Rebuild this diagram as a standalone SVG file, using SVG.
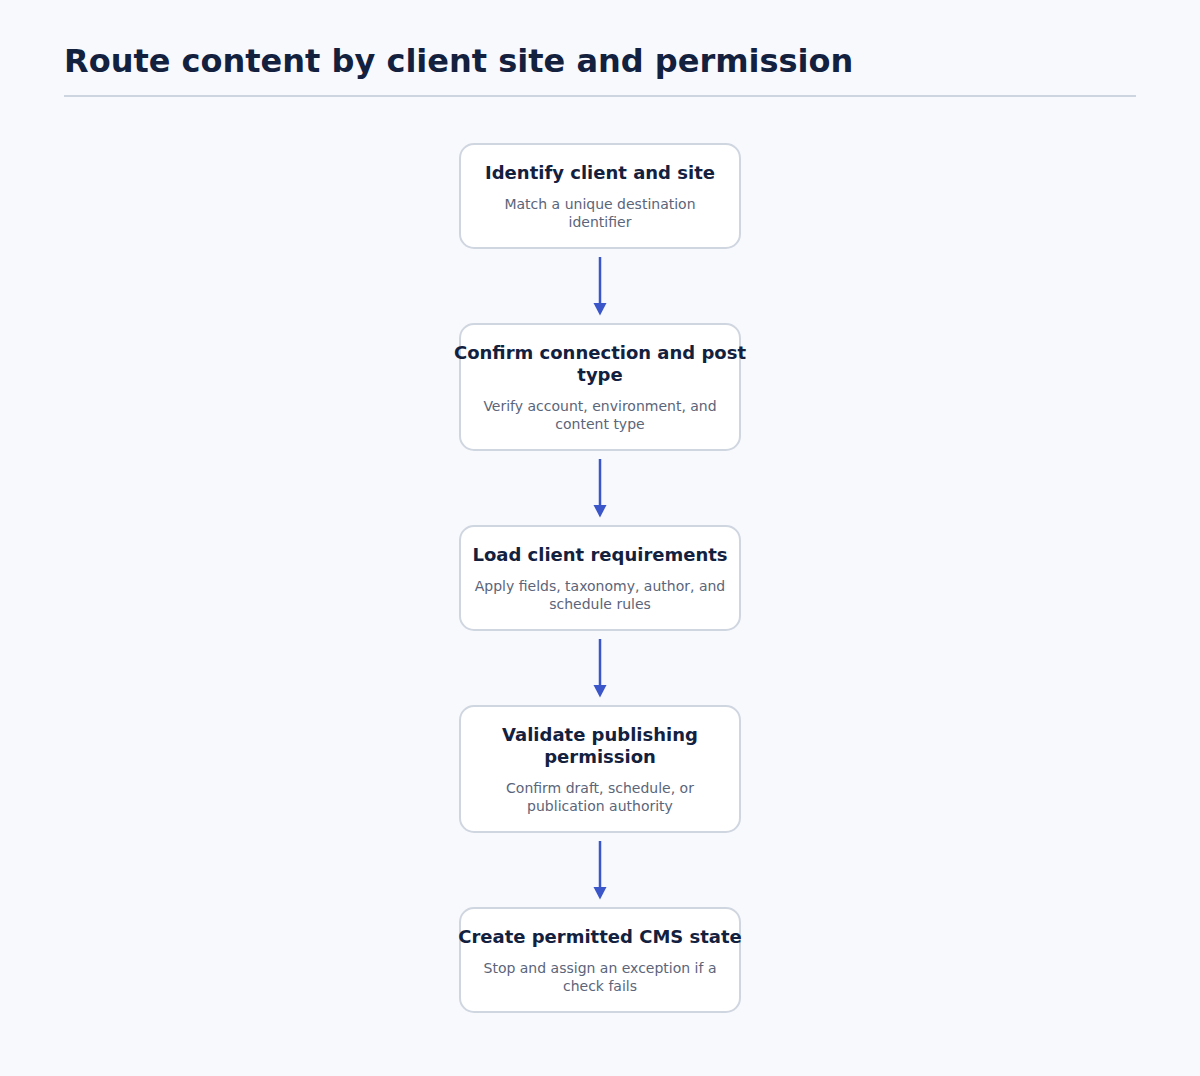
<svg xmlns="http://www.w3.org/2000/svg" width="1200" height="1076" viewBox="0 0 1200 1076">
<defs>
<style>
.bg{fill:#f7f9fd}
.box{fill:#ffffff;stroke:#d0d6e0;stroke-width:2}
.t{font-family:"DejaVu Sans",sans-serif;font-weight:bold;font-size:18px;fill:#13213f;text-anchor:middle}
.s{font-family:"DejaVu Sans",sans-serif;font-size:14px;fill:#5b6579;text-anchor:middle}
.h{font-family:"DejaVu Sans",sans-serif;font-weight:bold;font-size:32px;fill:#13213f}
.c{stroke:#3a56c8;stroke-width:2.5;fill:none}
.a{fill:#3a56c8}
</style>
</defs>
<rect class="bg" x="0" y="0" width="1200" height="1076"/>
<g id="title">
<text class="h" x="64" y="72">Route content by client site and permission</text>
<line x1="64" y1="96" x2="1136" y2="96" stroke="#cdd5e0" stroke-width="2"/>
</g>
<g id="connectors">
<line class="c" x1="600" y1="257" x2="600" y2="305"/>
<path class="a" d="M593.5,303 L606.5,303 L600,315.5 Z"/>
<line class="c" x1="600" y1="459" x2="600" y2="507"/>
<path class="a" d="M593.5,505 L606.5,505 L600,517.5 Z"/>
<line class="c" x1="600" y1="639" x2="600" y2="687"/>
<path class="a" d="M593.5,685 L606.5,685 L600,697.5 Z"/>
<line class="c" x1="600" y1="841" x2="600" y2="889"/>
<path class="a" d="M593.5,887 L606.5,887 L600,899.5 Z"/>
</g>
<g id="node1">
<rect class="box" x="460" y="144" width="280" height="104" rx="14"/>
<text class="t" x="600" y="179">Identify client and site</text>
<text class="s" x="600" y="209">Match a unique destination</text>
<text class="s" x="600" y="227">identifier</text>
</g>
<g id="node2">
<rect class="box" x="460" y="324" width="280" height="126" rx="14"/>
<text class="t" x="600" y="359">Confirm connection and post</text>
<text class="t" x="600" y="381">type</text>
<text class="s" x="600" y="411">Verify account, environment, and</text>
<text class="s" x="600" y="429">content type</text>
</g>
<g id="node3">
<rect class="box" x="460" y="526" width="280" height="104" rx="14"/>
<text class="t" x="600" y="561">Load client requirements</text>
<text class="s" x="600" y="591">Apply fields, taxonomy, author, and</text>
<text class="s" x="600" y="609">schedule rules</text>
</g>
<g id="node4">
<rect class="box" x="460" y="706" width="280" height="126" rx="14"/>
<text class="t" x="600" y="741">Validate publishing</text>
<text class="t" x="600" y="763">permission</text>
<text class="s" x="600" y="793">Confirm draft, schedule, or</text>
<text class="s" x="600" y="811">publication authority</text>
</g>
<g id="node5">
<rect class="box" x="460" y="908" width="280" height="104" rx="14"/>
<text class="t" x="600" y="943">Create permitted CMS state</text>
<text class="s" x="600" y="973">Stop and assign an exception if a</text>
<text class="s" x="600" y="991">check fails</text>
</g>
</svg>
